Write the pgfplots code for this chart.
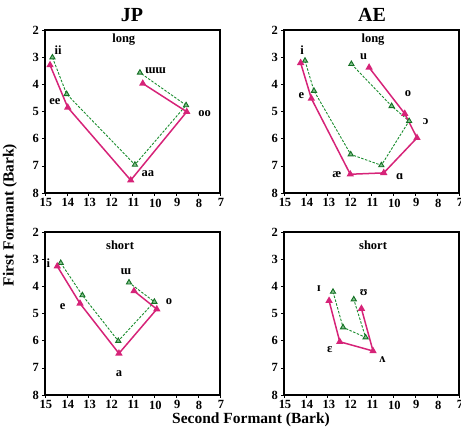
\documentclass[border=0pt]{standalone}
\usepackage{fontspec}
\setmainfont{Liberation Serif}
\usepackage{pgfplots}
\pgfplotsset{compat=1.18}
\definecolor{mag}{RGB}{214,35,120}
\definecolor{grn}{RGB}{25,140,45}
\tikzset{lab/.style={font=\bfseries\fontsize{12.5}{12.5}\selectfont, inner sep=0pt}}
\pgfplotsset{
 vowel/.style={
  scale only axis, width=175pt, height=163pt,
  xmin=7, xmax=15, ymin=2, ymax=8, x dir=reverse, y dir=reverse,
  xtick={7,...,15}, ytick={2,...,8},
  tick align=outside, tick pos=left, major tick length=3pt,
  tick style={line width=0.6pt, black},
  /pgf/number format/assume math mode=true,
  ticklabel style={font=\bfseries\fontsize{12.5}{12.5}\selectfont, inner sep=1pt},
  xticklabel style={yshift=-1.5pt, xshift=1pt},
  yticklabel style={xshift=-2pt},
  clip=false,
  anchor=south west,
  after end axis/.code={\draw[line width=2.2pt] (rel axis cs:0,0) rectangle (rel axis cs:1,1);},
 },
 mline/.style={mag, line width=1.5pt, mark=triangle*, mark size=2.8pt, mark options={solid, fill=mag}},
 gline/.style={grn, dash pattern=on 2.5pt off 1.5pt, line width=0.9pt, mark=triangle*, mark size=3pt, mark options={solid, fill=grn!55, draw=grn!80!black, line width=0.9pt}},
}
\begin{document}
\begin{tikzpicture}
\useasboundingbox (0pt,0pt) rectangle (461pt,427pt);
% JP long
\begin{axis}[vowel, at={(45pt,234pt)}]
\addplot[gline] coordinates {(14.66,3.01) (14.01,4.36) (10.89,6.96) (8.55,4.77) (10.66,3.57)};
\addplot[mline] coordinates {(14.77,3.29) (13.96,4.85) (11.08,7.53) (8.52,5.01) (10.53,3.97)};
\node[lab] at (axis cs:14.4,2.75) {ii};
\node[lab] at (axis cs:14.55,4.62) {ee};
\node[lab] at (axis cs:10.3,7.3) {aa};
\node[lab] at (axis cs:7.7,5.07) {oo};
\node[lab] at (axis cs:9.95,3.5) {ɯɯ};
\node[lab] at (axis cs:11.4,2.35) {long};
\end{axis}
% AE long
\begin{axis}[vowel, at={(284pt,234pt)}]
\addplot[gline] coordinates {(14.04,3.13) (13.63,4.24) (11.95,6.58) (10.55,6.98) (9.28,5.35) (10.08,4.80) (11.92,3.25)};
\addplot[mline] coordinates {(14.24,3.21) (13.75,4.52) (11.97,7.31) (10.44,7.26) (8.92,5.97) (9.48,5.08) (11.11,3.38)};
\node[lab] at (axis cs:14.17,2.74) {i};
\node[lab] at (axis cs:14.2,4.43) {e};
\node[lab] at (axis cs:12.58,7.31) {æ};
\node[lab] at (axis cs:9.71,7.4) {ɑ};
\node[lab] at (axis cs:8.52,5.38) {ɔ};
\node[lab] at (axis cs:9.33,4.36) {o};
\node[lab] at (axis cs:11.36,3.0) {u};
\node[lab] at (axis cs:10.93,2.35) {long};
\end{axis}
% JP short
\begin{axis}[vowel, at={(45pt,32pt)}]
\addplot[gline] coordinates {(14.28,3.14) (13.29,4.33) (11.65,6.01) (10.0,4.57) (11.16,3.86)};
\addplot[mline] coordinates {(14.44,3.26) (13.40,4.63) (11.62,6.47) (9.89,4.84) (10.93,4.17)};
\node[lab] at (axis cs:14.85,3.14) {i};
\node[lab] at (axis cs:14.19,4.75) {e};
\node[lab] at (axis cs:11.62,7.23) {a};
\node[lab] at (axis cs:9.33,4.57) {o};
\node[lab] at (axis cs:11.31,3.47) {ɯ};
\node[lab] at (axis cs:11.57,2.49) {short};
\end{axis}
% AE short
\begin{axis}[vowel, at={(284pt,32pt)}]
\addplot[gline] coordinates {(12.76,4.2) (12.30,5.51) (11.27,5.88) (11.81,4.48)};
\addplot[mline] coordinates {(12.94,4.53) (12.45,6.04) (10.93,6.38) (11.46,4.82)};
\node[lab] at (axis cs:13.4,4.1) {ɪ};
\node[lab] at (axis cs:12.91,6.32) {ɛ};
\node[lab] at (axis cs:10.50,6.71) {ʌ};
\node[lab] at (axis cs:11.36,4.24) {ʊ};
\node[lab] at (axis cs:10.93,2.49) {short};
\end{axis}
\node[font=\bfseries\fontsize{20}{20}\selectfont] at (132pt,412pt) {JP};
\node[font=\bfseries\fontsize{20}{20}\selectfont] at (372pt,412pt) {AE};
\node[font=\bfseries\fontsize{15.5}{15.5}\selectfont, rotate=90] at (10pt,212pt) {First Formant (Bark)};
\node[font=\bfseries\fontsize{15.5}{15.5}\selectfont] at (251pt,7pt) {Second Formant (Bark)};
\end{tikzpicture}
\end{document}
